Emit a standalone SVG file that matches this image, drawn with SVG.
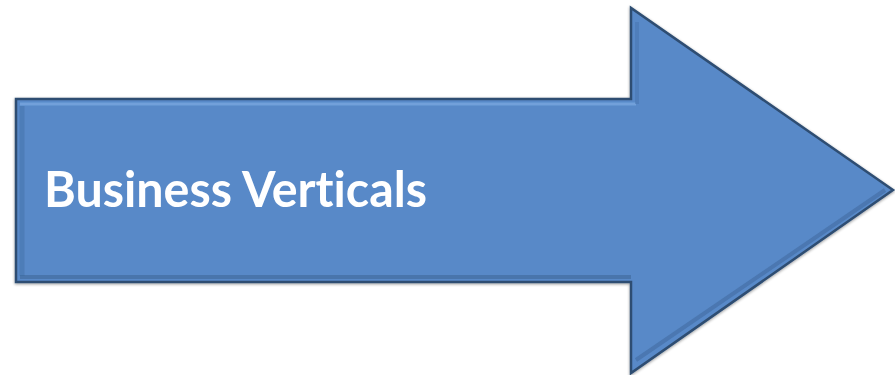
<svg xmlns="http://www.w3.org/2000/svg" width="895" height="375" viewBox="0 0 895 375">
<style>
.lbl{font-family:Lato,"Open Sans","Liberation Sans",sans-serif;font-weight:bold;font-size:50px;fill:#ffffff;font-variant-ligatures:none;font-feature-settings:"liga" 0}
</style>
<defs>
<filter id="sh" x="-5%" y="-5%" width="110%" height="110%">
<feGaussianBlur in="SourceAlpha" stdDeviation="1.5"/>
<feOffset dx="0" dy="1"/>
<feComponentTransfer><feFuncA type="linear" slope="0.4"/></feComponentTransfer>
<feMerge><feMergeNode/><feMergeNode in="SourceGraphic"/></feMerge>
</filter>
</defs>
<rect width="895" height="375" fill="#ffffff"/>
<g id="arrow" filter="url(#sh)">
<polygon points="16,99 631,99 631,8 893,190 631,373 631,282 16,282" fill="#5889C8" stroke="#2E4D72" stroke-width="2.5" stroke-linejoin="miter"/>
<polyline points="20,104 636,104" fill="none" stroke="#79A6DE" stroke-width="3" opacity="0.8"/>
<polyline points="22,106 22,276" fill="none" stroke="#4674AE" stroke-width="5" opacity="0.6"/>
<polyline points="20,277 631,277" fill="none" stroke="#3D6699" stroke-width="4" opacity="0.6"/>
<polyline points="637,22 637,104" fill="none" stroke="#4674AE" stroke-width="4" opacity="0.5"/>
<polyline points="636,360 885,190" fill="none" stroke="#3D6699" stroke-width="4" opacity="0.5"/>
<text class="lbl" x="44" y="207" textLength="383" lengthAdjust="spacingAndGlyphs">Business Verticals</text>
</g>
</svg>
